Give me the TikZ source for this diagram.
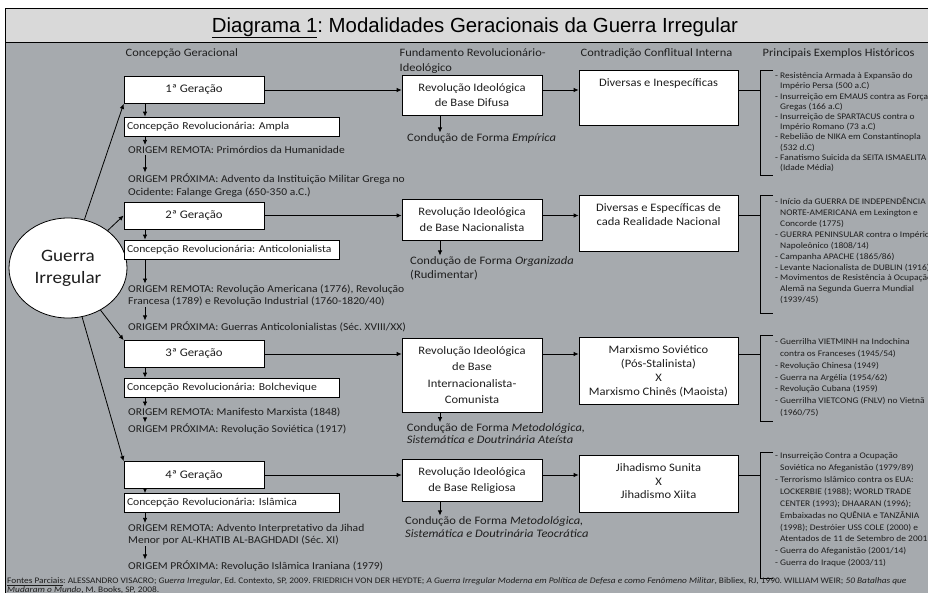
\documentclass[tikz,border=0pt]{standalone}
\usepackage{fontspec}
\setmainfont[FakeStretch=1.1]{Carlito}
\newfontfamily\titlefont{Liberation Sans}
\usetikzlibrary{shapes.geometric,arrows.meta}
\definecolor{bg}{RGB}{166,170,174}
\definecolor{titlebg}{RGB}{217,217,217}
\definecolor{ink}{RGB}{30,30,30}
\newcommand\ind{\hspace*{5pt}}
\frenchspacing
\begin{document}
\begin{tikzpicture}[x=1pt,y=-1pt,
  every node/.style={text=ink},
  arr/.style={draw=black, line width=0.8pt, -{Latex[length=5pt,width=4.5pt]}},
  ln/.style={draw=black, line width=0.8pt},
  hdr/.style={font=\frenchspacing\fontsize{11.3}{15}\selectfont, anchor=base west, inner sep=0.5pt},
  genbox/.style={draw=black, line width=0.8pt, fill=white, minimum width=140pt, minimum height=27pt, inner sep=0pt, font=\frenchspacing\fontsize{11.6}{14}\selectfont},
  concbox/.style={draw=black, line width=0.8pt, fill=white, minimum height=19pt, text width=209pt, inner xsep=3pt, inner ysep=0pt, align=left, font=\frenchspacing\fontsize{10.6}{12}\selectfont},
  orig/.style={anchor=base west, inner sep=1pt, align=left, font=\frenchspacing\fontsize{10.5}{#1}\selectfont},
  orig/.default=12,
  revbox/.style={draw=black, line width=0.8pt, fill=white, minimum width=140pt, inner sep=0pt, align=center, font=\frenchspacing\fontsize{11.4}{15.5}\selectfont},
  contbox/.style={draw=black, line width=0.8pt, fill=white, minimum width=159pt, inner sep=0pt},
  conttxt/.style={anchor=base, inner sep=0pt, align=center, font=\frenchspacing\fontsize{11.4}{14}\selectfont},
  cond/.style={anchor=base west, inner sep=1pt, align=left, font=\frenchspacing\fontsize{11.4}{13}\selectfont},
  exlist/.style={anchor=base west, inner sep=0pt, align=left, font=\frenchspacing\fontsize{8.6}{#1}\selectfont},
]
\useasboundingbox (0,0) rectangle (928,592);
\clip (0,0) rectangle (928,592);
% frame
\draw[fill=bg, line width=0.8pt] (5,8) rectangle (940,600);
\draw[fill=titlebg, line width=0.8pt] (5,8) rectangle (940,42);
\node[anchor=base, inner sep=0pt, font=\titlefont\fontsize{20.4}{24}\selectfont, text=black] (title) at (475,32)
  {\underline{Diagrama 1}: Modalidades Geracionais da Guerra Irregular};
% headers
\node[hdr] (h1) at (125,56.6) {Concepção Geracional};
\node[hdr] (h2) at (399,56.6) {Fundamento Revolucionário-};
\node[hdr] (h2b) at (399,71.6) {Ideológico};
\node[hdr] (h3) at (580,56.6) {Contradição Conflitual Interna};
\node[hdr] (h4) at (762,56.6) {Principais Exemplos Históricos};
% central ellipse
\node[ellipse, draw=black, line width=0.8pt, fill=white, minimum width=118pt, minimum height=100pt, inner sep=0pt, align=center, font=\fontsize{17.4}{22}\selectfont] (ell) at (68,268) {Guerra\\Irregular};
% generation boxes
\node[genbox] (g1) at (194,90) {1ª Geração};
\node[genbox] (g2) at (194,215.5) {2ª Geração};
\node[genbox] (g3) at (194,354) {3ª Geração};
\node[genbox] (g4) at (194,475) {4ª Geração};
\draw[arr] (ell) -- (g1.south west);
\draw[arr] (ell) -- (g2.west);
\draw[arr] (ell) -- (g3.north west);
\draw[arr] (ell) -- (g4.north west);
% concepcao boxes
\node[concbox] (c1) at (231.5,126.5) {Concepção Revolucionária: Ampla};
\node[concbox] (c2) at (231.5,249.5) {Concepção Revolucionária: Anticolonialista};
\node[concbox] (c3) at (231.5,387.5) {Concepção Revolucionária: Bolchevique};
\node[concbox] (c4) at (231.5,503) {Concepção Revolucionária: Islâmica};
% origins (base = last line)
\node[orig] (r1) at (127,153.4) {ORIGEM REMOTA: Primórdios da Humanidade};
\node[orig=13] (p1) at (127,195.4) {ORIGEM PRÓXIMA: Advento da Instituição Militar Grega no\\Ocidente: Falange Grega (650-350 a.C.)};
\node[orig] (r2) at (127,304.4) {ORIGEM REMOTA: Revolução Americana (1776), Revolução\\Francesa (1789) e Revolução Industrial (1760-1820/40)};
\node[orig] (p2) at (127,330.4) {ORIGEM PRÓXIMA: Guerras Anticolonialistas (Séc. XVIII/XX)};
\node[orig] (r3) at (127,415.4) {ORIGEM REMOTA: Manifesto Marxista (1848)};
\node[orig] (p3) at (127,432.4) {ORIGEM PRÓXIMA: Revolução Soviética (1917)};
\node[orig] (r4) at (127,543.4) {ORIGEM REMOTA: Advento Interpretativo da Jihad\\Menor por AL-KHATIB AL-BAGHDADI (Séc. XI)};
\node[orig] (p4) at (127,569.4) {ORIGEM PRÓXIMA: Revolução Islâmica Iraniana (1979)};
\coordinate (ax) at (145,0);
\foreach \i in {1,2,3,4}{
  \draw[arr] (g\i.south -| ax) -- (c\i.north -| ax);
  \draw[arr] (c\i.south -| ax) -- (r\i.north -| ax);
  \draw[arr] (r\i.south -| ax) -- (p\i.north -| ax);
}
% revolution boxes
\node[revbox, minimum height=40pt] (v1) at (472,95) {Revolução Ideológica\\de Base Difusa};
\node[revbox, minimum height=41pt] (v2) at (472,219.5) {Revolução Ideológica\\de Base Nacionalista};
\node[revbox, minimum height=74pt, font=\frenchspacing\fontsize{11.4}{16.2}\selectfont] (v3) at (472,375) {Revolução Ideológica\\de Base\\Internacionalista-\\Comunista};
\node[revbox, minimum height=42.5pt] (v4) at (472,480.5) {Revolução Ideológica\\de Base Religiosa};
% conduction texts (base = last line)
\node[cond] (k1) at (406,141.6) {Condução de Forma \textit{Empírica}};
\node[cond, font=\frenchspacing\fontsize{11.4}{14}\selectfont] (k2) at (409,278.6) {Condução de Forma \textit{Organizada}\\(Rudimentar)};
\node[cond, font=\frenchspacing\fontsize{11.4}{12.5}\selectfont] (k3) at (405.7,443.8) {Condução de Forma \textit{Metodológica,}\\\textit{Sistemática e Doutrinária Ateísta}};
\node[cond, font=\frenchspacing\fontsize{11.4}{12.5}\selectfont] (k4) at (404,537.1) {Condução de Forma \textit{Metodológica,}\\\textit{Sistemática e Doutrinária Teocrática}};
\coordinate (kx) at (440,0);
\foreach \i in {1,2,3,4}{
  \draw[arr] (v\i.south -| kx) -- (k\i.north -| kx);
}
% contradiction boxes
\node[contbox, minimum height=55pt] (d1) at (658.5,97.5) {};
\node[contbox, minimum height=56pt] (d2) at (658.5,223) {};
\node[contbox, minimum height=66.5pt] (d3) at (658.5,371) {};
\node[contbox, minimum height=56.5pt] (d4) at (658.5,484) {};
\node[conttxt] (t1) at (658.5,86.6) {Diversas e Inespecíficas};
\node[conttxt] (t2) at (658.5,225.3) {Diversas e Específicas de\\cada Realidade Nacional};
\node[conttxt] (t3) at (658.5,395.6) {Marxismo Soviético\\(Pós-Stalinista)\\X\\Marxismo Chinês (Maoista)};
\node[conttxt, font=\frenchspacing\fontsize{11.4}{13.7}\selectfont] (t4) at (658.5,498.7) {Jihadismo Sunita\\X\\Jihadismo Xiita};
% horizontal connectors
\foreach \i in {1,2,3,4}{
  \draw[arr] (g\i.east) -- (g\i.east -| v\i.west);
  \draw[arr] (v\i.east |- g\i.east) -- (d\i.west |- g\i.east);
}
% brackets
\coordinate (b1) at (760,70);
\coordinate (b2) at (760,195);
\coordinate (b3) at (760,335);
\coordinate (b4) at (760,452);
\foreach \i in {1,2,3,4}{
  \draw[ln] (d\i.east |- g\i.east) -- (b\i |- g\i.east);
}
\draw[ln] (773,70) -- (b1) -- (760,175) -- (773,175);
\draw[ln] (773,195) -- (b2) -- (760,313) -- (773,313);
\draw[ln] (773,335) -- (b3) -- (760,421.7) -- (773,421.7);
\draw[ln] (773,452) -- (b4) -- (760,578) -- (773,578);
% examples (base = last line)
\node[exlist=10.2] (e1) at (775,170.4) {- Resistência Armada à Expansão do\\\ind Império Persa (500 a.C)\\- Insurreição em EMAUS contra as Forças\\\ind Gregas (166 a.C)\\- Insurreição de SPARTACUS contra o\\\ind Império Romano (73 a.C)\\- Rebelião de NIKA em Constantinopla\\\ind (532 d.C)\\- Fanatismo Suicida da SEITA ISMAELITA\\\ind (Idade Média)};
\node[exlist=10.9] (e2) at (775,302.7) {- Início da GUERRA DE INDEPENDÊNCIA\\\ind NORTE-AMERICANA em Lexington e\\\ind Concorde (1775)\\- GUERRA PENINSULAR contra o Império\\\ind Napoleônico (1808/14)\\- Campanha APACHE (1865/86)\\- Levante Nacionalista de DUBLIN (1916)\\- Movimentos de Resistência à Ocupação\\\ind Alemã na Segunda Guerra Mundial\\\ind (1939/45)};
\node[exlist=11.8] (e3) at (775,415.4) {- Guerrilha VIETMINH na Indochina\\\ind contra os Franceses (1945/54)\\- Revolução Chinesa (1949)\\- Guerra na Argélia (1954/62)\\- Revolução Cubana (1959)\\- Guerrilha VIETCONG (FNLV) no Vietnã\\\ind (1960/75)};
\node[exlist=11.9] (e4) at (775,565.7) {- Insurreição Contra a Ocupação\\\ind Soviética no Afeganistão (1979/89)\\- Terrorismo Islâmico contra os EUA:\\\ind LOCKERBIE (1988); WORLD TRADE\\\ind CENTER (1993); DHAARAN (1996);\\\ind Embaixadas no QUÊNIA e TANZÂNIA\\\ind (1998); Destróier USS COLE (2000) e\\\ind Atentados de 11 de Setembro de 2001\\- Guerra do Afeganistão (2001/14)\\- Guerra do Iraque (2003/11)};
% footer (base = last line)
\node[anchor=base west, inner sep=0pt, align=left, font=\frenchspacing\fontsize{8.5}{9}\selectfont] (foot) at (7,592.4)
  {\underline{Fontes Parciais}: ALESSANDRO VISACRO; \textit{Guerra Irregular}, Ed. Contexto, SP, 2009. FRIEDRICH VON DER HEYDTE; \textit{A Guerra Irregular Moderna em Política de Defesa e como Fenômeno Militar}, Bibliex, RJ, 1990. WILLIAM WEIR; \textit{50 Batalhas que}\\\textit{Mudaram o Mundo}, M. Books, SP, 2008.};
\end{tikzpicture}
\end{document}
